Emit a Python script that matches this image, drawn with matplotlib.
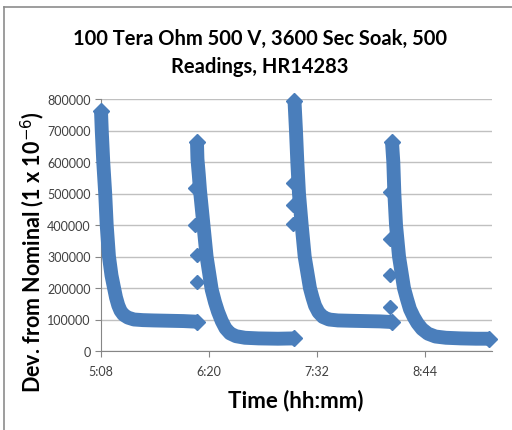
import matplotlib
matplotlib.use("Agg")
import matplotlib.pyplot as plt
from matplotlib.lines import Line2D
from matplotlib.ticker import MultipleLocator, FixedLocator

plt.rcParams['font.family'] = ['Lato', 'DejaVu Sans']

# minutes after 5:08, readings
seg1_t = [0, 0.5, 1.5, 2.8, 3.8, 5.3, 7.0, 8.7, 10.0, 11.5, 13.0, 15.0, 18.0, 22.0, 28.0, 35.0, 45.0, 55.0, 64.0]
seg1_v = [763000, 700000, 600000, 500000, 400000, 300000, 240000, 200000, 170000, 145000, 128000, 115000, 106000, 100000, 98000, 97000, 96000, 95000, 93000]

seg2_t = [64.0, 64.3, 65.2, 66.0, 68.2, 70.4, 73.8, 76.0, 78.0, 80.5, 83.0, 86.0, 90.0, 96.0, 105.0, 118.0, 129.0]
seg2_v = [662000, 610000, 560000, 510000, 405000, 300000, 195000, 155000, 125000, 95000, 72000, 56000, 47000, 42000, 40000, 39000, 40000]

seg3_t = [129.0, 130.0, 130.9, 132.0, 133.8, 135.8, 139.3, 141.0, 142.7, 145.0, 148.0, 152.0, 158.0, 166.0, 176.0, 186.0, 194.0]
seg3_v = [795000, 700000, 600000, 500000, 400000, 300000, 200000, 170000, 144000, 123000, 108000, 100000, 97000, 96000, 95000, 94000, 92000]

seg4_t = [194.0, 194.9, 195.6, 196.7, 198.7, 202.0, 204.0, 206.0, 208.5, 211.0, 214.0, 218.0, 223.0, 230.0, 240.0, 250.0, 258.5]
seg4_v = [665000, 600000, 500000, 400000, 300000, 200000, 165000, 133000, 108000, 88000, 70000, 55000, 46000, 42000, 40000, 39000, 39000]

# stray readings at the start of each soak
stray_t = [63.8, 63.8, 63.0, 63.0, 128.2, 128.2, 128.2, 192.7, 192.7, 192.7, 193.0]
stray_v = [218000, 304000, 400000, 518000, 533000, 464000, 403000, 356000, 240000, 139000, 505000]

xtick_pos = [0, 72, 144, 216]
xtick_labels = ['5:08', '6:20', '7:32', '8:44']

blue = '#4A7EBB'

fig = plt.figure(figsize=(5.12, 4.31), dpi=100)
ax = fig.add_axes([101/512, 1 - 352/431, 391/512, 252/431])

for t, v in [(seg1_t, seg1_v), (seg2_t, seg2_v), (seg3_t, seg3_v), (seg4_t, seg4_v)]:
    ax.plot(t, v, color=blue, lw=10, solid_joinstyle='round', solid_capstyle='butt',
            marker='D', ms=8.5, markevery=[0, len(t) - 1], mec=blue, mfc=blue,
            clip_on=False, zorder=3)
ax.plot(stray_t, stray_v, ls='none', marker='D', ms=7.5, color=blue, clip_on=False, zorder=3)

ax.set_xlim(0, 260.7)
ax.set_ylim(0, 800000)
ax.yaxis.set_major_locator(MultipleLocator(100000))
ax.xaxis.set_major_locator(FixedLocator(xtick_pos))
ax.set_xticklabels(xtick_labels)
ax.yaxis.set_major_formatter(matplotlib.ticker.FuncFormatter(lambda y, p: '%d' % y))
ax.grid(axis='y', color='#C0C0C0', lw=1)
ax.set_axisbelow(True)
for s in ['top', 'right']:
    ax.spines[s].set_visible(False)
for s in ['left', 'bottom']:
    ax.spines[s].set_color('#868686')
ax.tick_params(axis='both', colors='#868686', labelcolor='#404040', labelsize=9, length=4)
ax.tick_params(axis='x', pad=6)

fig.text(260/512, 1 - 53/431, '100 Tera Ohm 500 V, 3600 Sec Soak, 500\nReadings, HR14283',
         ha='center', va='center', fontsize=14.5, fontweight='bold', linespacing=1.45)
fig.text(33/512, 1 - 252/431, 'Dev. from Nominal (1 x 10$^{-6}$)', rotation=90,
         ha='center', va='center', fontsize=15.5, fontweight='bold')
fig.text(296/512, 1 - 401/431, 'Time (hh:mm)', ha='center', va='center',
         fontsize=16, fontweight='bold')

# chart frame (left and top edges visible)
fig.add_artist(Line2D([3.5/512, 3.5/512], [0, 1 - 7.5/431], color='#8C8C8C', lw=1.2))
fig.add_artist(Line2D([3.5/512, 1], [1 - 7.5/431, 1 - 7.5/431], color='#8C8C8C', lw=1.2))

fig.savefig('out.png', dpi=100)
